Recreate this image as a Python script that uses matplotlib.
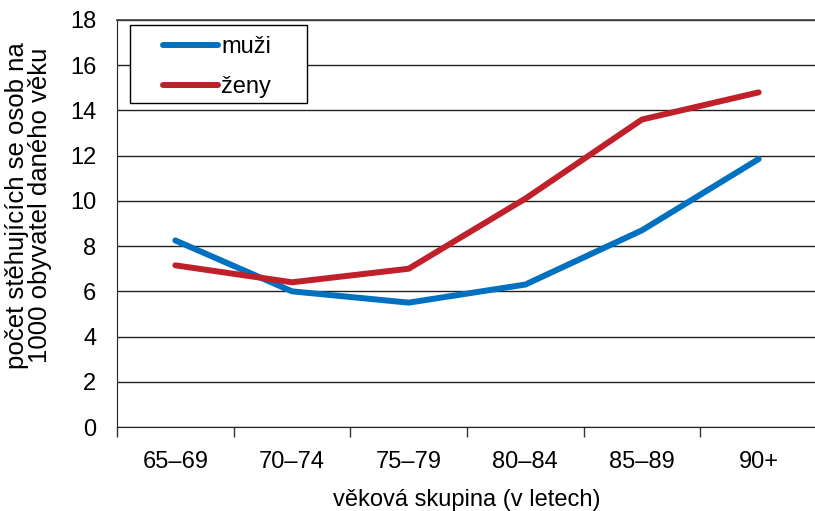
import matplotlib
matplotlib.use('Agg')
import matplotlib.pyplot as plt
from matplotlib.patches import Rectangle
import numpy as np

# data
groups = ['65–69', '70–74', '75–79', '80–84', '85–89', '90+']
muzi = [8.25, 6.0, 5.5, 6.3, 8.7, 11.85]
zeny = [7.15, 6.4, 7.0, 10.1, 13.6, 14.8]

plt.rcParams['font.family'] = ['Liberation Sans', 'DejaVu Sans']

fig = plt.figure(figsize=(8.15, 5.11), dpi=100)
ax = fig.add_axes([117 / 815, 1 - 427 / 511, 700 / 815, 407 / 511])

x = np.arange(len(groups))
ax.plot(x, muzi, color='#0070C0', lw=4.3, solid_capstyle='round', solid_joinstyle='round', label='muži')
ax.plot(x, zeny, color='#C0202A', lw=4.3, solid_capstyle='round', solid_joinstyle='round', label='ženy')

ax.set_xlim(-0.5, 5.5)
ax.set_ylim(0, 18)
ax.set_yticks(np.arange(0, 19, 2))
ax.tick_params(axis='y', length=0, labelsize=17, pad=15)
ax.set_xticks(x)
ax.set_xticklabels(groups)
ax.set_xticks(np.arange(-0.5, 6, 1), minor=True)
ax.tick_params(axis='x', which='major', length=0, labelsize=17, pad=17)
ax.tick_params(axis='x', which='minor', length=7, width=1, color='#333333')

ax.grid(axis='y', color='#222222', lw=1)
ax.set_axisbelow(True)
ax.spines['right'].set_visible(False)
ax.spines['top'].set_color('#444444')
ax.spines['top'].set_linewidth(1.3)
ax.spines['left'].set_color('#222222')
ax.spines['bottom'].set_color('#222222')

ax.set_ylabel('počet stěhujících se osob na\n1000 obyvatel daného věku', fontsize=18.5,
              linespacing=0.95)
ax.yaxis.set_label_coords(-0.093, 0.545)
ax.set_xlabel('věková skupina (v letech)', fontsize=17, labelpad=12)

# legend box frame drawn separately, entries placed inside it
ax.add_patch(Rectangle((0.019, 0.796), 0.252, 0.192, transform=ax.transAxes,
                       facecolor='white', edgecolor='black', lw=1, zorder=5))
leg = ax.legend(loc='upper left', bbox_to_anchor=(0.066, 0.96), fontsize=17, frameon=False,
                handlelength=2.3, handletextpad=0.15, borderpad=0, labelspacing=0.75,
                borderaxespad=0)
leg.set_zorder(6)
for h in leg.get_lines():
    h.set_solid_capstyle('round')

fig.savefig('out.png', dpi=100)
